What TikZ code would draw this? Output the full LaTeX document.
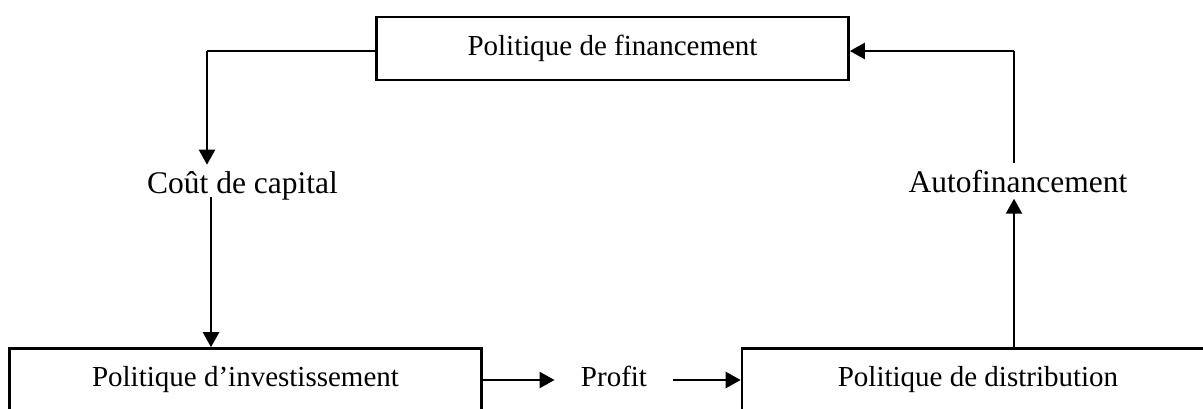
\documentclass[tikz,border=0pt]{standalone}
\usepackage{fontspec}
\setmainfont{Liberation Serif}
\usetikzlibrary{arrows.meta}

\begin{document}
\begin{tikzpicture}[
            x = .5pt, y = -.5pt,
            box/.style={draw, line width = 1.3pt, minimum width = 236pt, minimum height = 31.5pt, font=\fontsize{14.5}{17}\selectfont},
            tag/.style={anchor=base, inner sep = 3pt, font=\fontsize{15.75}{19}\selectfont},
            midtag/.style={anchor=base, inner xsep = 13pt, font=\fontsize{14.5}{17}\selectfont},
            line/.style={line width = .6pt},
            arrow/.style={line width = 1.2pt, -{Triangle[length=7.5pt, width=8pt]}},
            ]
        \useasboundingbox (0, 0) rectangle (1203, 408);

        \node[box] (fin) at (612.5, 48.5) {Politique de financement};
        \node[box] (inv) at (245.5, 380) {Politique d’investissement};
        \node[box] (dist) at (978, 380) {Politique de distribution};

        \node[tag] (cap) at (242.5, 193) {Coût de capital};
        \node[tag] (auto) at (1018, 192) {Autofinancement};
        \node[midtag] (profit) at (614, 386) {Profit};

        \coordinate (c1) at (207, 51);
        \coordinate (c2) at (211, 197);
        \coordinate (c3) at (1014, 51);

        \draw[line] (fin.west |- c1) -- (c1);
        \draw[arrow] (c1) -- (c1 |- cap.north);
        \draw[arrow] (c2) -- (c2 |- inv.north);
        \draw[arrow] (inv.east) -- (profit.west |- inv.east);
        \draw[arrow] (profit.east |- dist.west) -- (dist.west);
        \draw[arrow] (dist.north -| c3) -- (auto.south -| c3);
        \draw[line] (auto.north -| c3) -- (c3);
        \draw[arrow] (c3) -- (fin.east |- c3);
    \end{tikzpicture}
\end{document}
